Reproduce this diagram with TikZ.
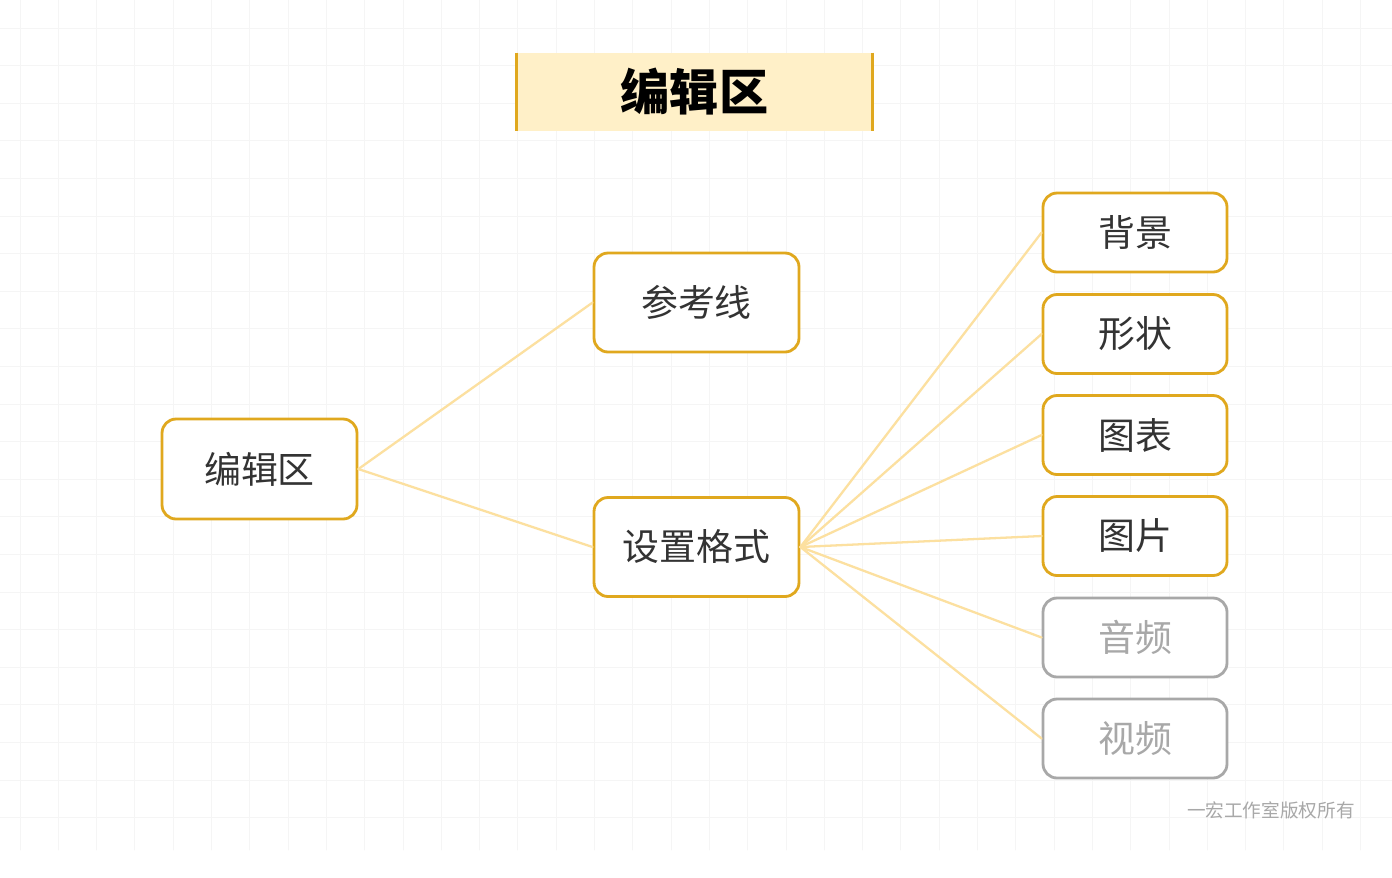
\documentclass[tikz,border=0pt]{standalone}
\usepackage{fontspec}
\setmainfont{Noto Sans CJK SC}
\usepackage{xcolor}
\definecolor{boxorange}{HTML}{E0A81E}
\definecolor{titlefill}{HTML}{FFF0C8}
\definecolor{linkyellow}{HTML}{FCE0A0}
\definecolor{textdark}{HTML}{333333}
\definecolor{mutegray}{HTML}{A8A8A8}
\definecolor{gridgray}{HTML}{F5F5F5}
\begin{document}
\begin{tikzpicture}[x=0.02cm,y=-0.02cm,line cap=round,
  box/.style={draw=boxorange,line width=1.6pt,rounded corners=0.28cm,fill=white,
    text=textdark,font=\fontsize{21pt}{21pt}\selectfont,inner sep=0pt},
  rootbox/.style={box,minimum width=3.9cm,minimum height=2cm},
  mainbox/.style={box,minimum width=4.1cm,minimum height=1.98cm},
  leafbox/.style={box,minimum width=3.68cm,minimum height=1.58cm},
  mutebox/.style={leafbox,draw=mutegray,text=mutegray},
  link/.style={draw=linkyellow,line width=1.3pt}]
\useasboundingbox (0,0) rectangle (1392,877);
\fill[white] (0,0) rectangle (1392,877);
\begin{scope}
\clip (0,0) rectangle (1392,850);
\foreach \i in {0,...,36} \draw[gridgray,line width=0.5pt] (20+38.3*\i,0) -- (20+38.3*\i,850);
\foreach \j in {0,...,22} \draw[gridgray,line width=0.5pt] (0,28+37.6*\j) -- (1392,28+37.6*\j);
\end{scope}
\node[fill=titlefill,minimum width=7.1cm,minimum height=1.56cm,inner sep=0pt,
  font=\fontsize{28pt}{28pt}\selectfont\bfseries] (title) at (694.5,92) {编辑区};
\draw[boxorange,line width=1.6pt,line cap=butt] (title.north west) -- (title.south west);
\draw[boxorange,line width=1.6pt,line cap=butt] (title.north east) -- (title.south east);
\node[rootbox] (root) at (259.5,469) {编辑区};
\node[mainbox] (guide) at (696.5,302.5) {参考线};
\node[mainbox] (format) at (696.5,547) {设置格式};
\node[leafbox] (bg) at (1135,232.5) {背景};
\node[leafbox] (shape) at (1135,334) {形状};
\node[leafbox] (chart) at (1135,435) {图表};
\node[leafbox] (pic) at (1135,536) {图片};
\node[mutebox] (audio) at (1135,637.5) {音频};
\node[mutebox] (video) at (1135,738.5) {视频};
\path[link] (root.east) -- (guide.west);
\path[link] (root.east) -- (format.west);
\foreach \n in {bg,shape,chart,pic,audio,video}
  \path[link] (format.east) -- (\n.west);
\node[text=mutegray,font=\fontsize{10.6pt}{10.6pt}\selectfont,anchor=east,inner sep=0pt] (mark) at (1355,810) {一宏工作室版权所有};
\end{tikzpicture}
\end{document}
